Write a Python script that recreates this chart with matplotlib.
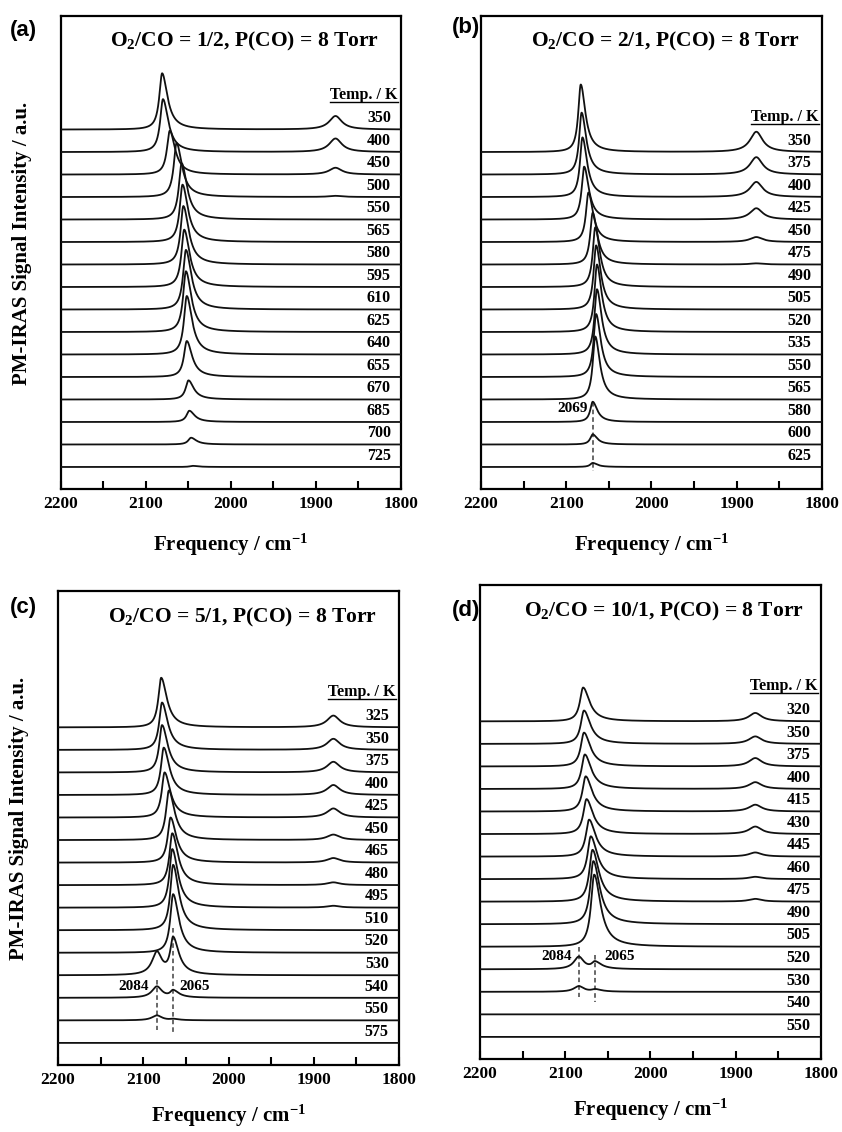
import matplotlib
matplotlib.use('Agg')
import matplotlib.pyplot as plt
from matplotlib.ticker import MultipleLocator
import numpy as np

plt.rcParams['font.family'] = ['Liberation Serif', 'DejaVu Serif']
plt.rcParams['font.weight'] = 'bold'
plt.rcParams['mathtext.fontset'] = 'custom'
plt.rcParams['mathtext.rm'] = 'Liberation Serif:bold'
plt.rcParams['mathtext.it'] = 'Liberation Serif:bold'
plt.rcParams['mathtext.bf'] = 'Liberation Serif:bold'
plt.rcParams['mathtext.default'] = 'rm'

# (a) O2/CO = 1/2
temps_a = [350, 400, 450, 500, 550, 565, 580, 595, 610, 625, 640, 655, 670, 685, 700, 725]
pos_a = [2081, 2080, 2072, 2064, 2058, 2057, 2056, 2055, 2053, 2053, 2052, 2052, 2050, 2049, 2047, 2045]
height_a = [2.5, 2.35, 1.95, 2.4, 2.5, 2.55, 2.6, 2.55, 2.65, 2.7, 2.6, 1.6, 0.85, 0.5, 0.3, 0.05]
high_a = [0] * 16
bridge_a = [0.6, 0.6, 0.3, 0.05, 0, 0, 0, 0, 0, 0, 0, 0, 0, 0, 0, 0]

# (b) O2/CO = 2/1
temps_b = [350, 375, 400, 425, 450, 475, 490, 505, 520, 535, 550, 565, 580, 600, 625]
pos_b = [2083, 2082, 2081, 2079, 2074, 2069, 2066, 2065, 2064, 2064, 2065, 2066, 2069, 2069, 2069]
height_b = [3.0, 2.75, 2.65, 2.35, 2.2, 2.3, 2.65, 2.85, 3.0, 2.9, 2.8, 2.8, 0.9, 0.45, 0.18]
high_b = [0] * 15
bridge_b = [0.9, 0.77, 0.67, 0.5, 0.22, 0.05, 0, 0, 0, 0, 0, 0, 0, 0, 0]

# (c) O2/CO = 5/1
temps_c = [325, 350, 375, 400, 425, 450, 465, 480, 495, 510, 520, 530, 540, 550, 575]
pos_c = [2079, 2078, 2078, 2076, 2075, 2070, 2068, 2066, 2066, 2065, 2065, 2065, 2065, 2065, 2065]
height_c = [2.2, 2.1, 2.1, 2.1, 2.0, 2.2, 2.0, 2.3, 2.6, 2.9, 2.6, 1.6, 0.3, 0.05, 0.0]
high_c = [0, 0, 0, 0, 0, 0, 0, 0, 0, 0, 0, 1.0, 0.5, 0.22, 0]
bridge_c = [0.52, 0.49, 0.47, 0.44, 0.4, 0.24, 0.2, 0.12, 0.08, 0, 0, 0, 0, 0, 0]

# (d) O2/CO = 10/1
temps_d = [320, 350, 375, 400, 415, 430, 445, 460, 475, 490, 505, 520, 530, 540, 550]
pos_d = [2079, 2078, 2078, 2077, 2076, 2075, 2072, 2070, 2068, 2067, 2066, 2065, 2065, 2065, 2065]
height_d = [1.5, 1.48, 1.5, 1.53, 1.56, 1.55, 1.64, 1.9, 2.3, 2.8, 3.2, 0.3, 0.1, 0, 0]
high_d = [0, 0, 0, 0, 0, 0, 0, 0, 0, 0, 0, 0.55, 0.25, 0, 0]
bridge_d = [0.37, 0.33, 0.37, 0.3, 0.3, 0.33, 0.18, 0.1, 0.12, 0, 0, 0, 0, 0, 0]

titles = ['O$_2$/CO = 1/2, P(CO) = 8 Torr', 'O$_2$/CO = 2/1, P(CO) = 8 Torr',
          'O$_2$/CO = 5/1, P(CO) = 8 Torr', 'O$_2$/CO = 10/1, P(CO) = 8 Torr']
letters = ['(a)', '(b)', '(c)', '(d)']

# dashed guides at marked band positions: (freq, y_top, y_bottom)
marks_b = [(2069, 2.9, -0.2)]
marks_c = [(2084, 2.8, 0.58), (2065, 5.1, 0.49)]
marks_d = [(2084, 4.0, 1.78), (2065, 3.64, 1.56)]

# line half-widths per panel: (high-frequency side, low-frequency side)
widths = [(4.0, 7.5), (3.5, 6.5), (4.0, 8.0), (4.5, 9.0)]

x = np.linspace(2200, 1800, 1601)


def lorentz(x, x0, w):
    return 1.0 / (1.0 + ((x - x0) / w) ** 2)


def spectrum(pos, h, hi, br, wl, wr):
    w = np.where(x >= pos, wl, wr)
    y = h / (1.0 + ((x - pos) / w) ** 2)
    y += hi * lorentz(x, 2084, 7.0)
    y += br * lorentz(x, 1877, 9.0)
    return y


fig = plt.figure(figsize=(8.42, 11.32), dpi=100)
rects = [[0.0724, 0.568, 0.4038, 0.4179],
         [0.5713, 0.568, 0.4049, 0.4179],
         [0.0689, 0.0592, 0.4050, 0.4187],
         [0.5700, 0.0645, 0.4050, 0.4187]]
panels = [(temps_a, pos_a, height_a, high_a, bridge_a, []),
          (temps_b, pos_b, height_b, high_b, bridge_b, marks_b),
          (temps_c, pos_c, height_c, high_c, bridge_c, marks_c),
          (temps_d, pos_d, height_d, high_d, bridge_d, marks_d)]
letter_pos = [(0.012, 0.973), (0.537, 0.976), (0.012, 0.463), (0.537, 0.461)]
xlabel_pad = [14, 14, 11, 11]

axes = []
for k, (rect, (temps, pos, hgt, hi, br, marks)) in enumerate(zip(rects, panels)):
    ax = fig.add_axes(rect)
    axes.append(ax)
    n = len(temps)
    wl, wr = widths[k]
    for i in range(n):
        off = n - 1 - i
        ax.plot(x, spectrum(pos[i], hgt[i], hi[i], br[i], wl, wr) + off,
                color='#111111', lw=1.3, zorder=3)
        ax.text(1812, off + 0.5, str(temps[i]), ha='right', va='center',
                fontsize=11.5, fontweight='bold', zorder=4)
    ax.text(1804, n - 1 + 1.55, 'Temp. / K', ha='right', va='center',
            fontsize=11.5, fontweight='bold')

    for f, y0, y1 in marks:
        ax.plot([f, f], [y0, y1], color='0.25', lw=1.1, ls=(0, (3, 2)), zorder=2)
    if k == 1:
        ax.text(2075, 2.6, '2069', ha='right', va='center', fontsize=11, fontweight='bold')
    elif k == 2:
        ax.text(2093, 2.5, '2084', ha='right', va='center', fontsize=11, fontweight='bold')
        ax.text(2058, 2.5, '2065', ha='left', va='center', fontsize=11, fontweight='bold')
    elif k == 3:
        ax.text(2092, 3.55, '2084', ha='right', va='center', fontsize=11, fontweight='bold')
        ax.text(2054, 3.55, '2065', ha='left', va='center', fontsize=11, fontweight='bold')

    ax.set_xlim(2200, 1800)
    ax.set_ylim(-0.98, 20.05)
    ax.set_yticks([])
    ax.xaxis.set_major_locator(MultipleLocator(100))
    ax.xaxis.set_minor_locator(MultipleLocator(50))
    ax.tick_params(axis='x', which='both', direction='in', top=False,
                   labelsize=12.5, pad=5, width=1.5, length=6)
    for lab in ax.get_xticklabels():
        lab.set_fontweight('bold')
    for s in ax.spines.values():
        s.set_linewidth(1.6)
    ax.set_xlabel('Frequency / cm$^{-1}$', fontsize=15, fontweight='bold',
                  labelpad=xlabel_pad[k])
    ax.text(0.54, 0.945, titles[k], transform=ax.transAxes, ha='center', va='center',
            fontsize=15.5, fontweight='bold')
    if k in (0, 2):
        ax.set_ylabel('PM-IRAS Signal Intensity / a.u.', fontsize=15, fontweight='bold')
        ax.yaxis.set_label_coords(-0.085, 0.52)
    fig.text(letter_pos[k][0], letter_pos[k][1], letters[k], family='Liberation Sans',
             fontsize=16, fontweight='bold', ha='left', va='center')

# underline the "Temp. / K" headers
fig.canvas.draw()
renderer = fig.canvas.get_renderer()
for ax in axes:
    for t in ax.texts:
        if t.get_text() == 'Temp. / K':
            bb = t.get_window_extent(renderer).transformed(ax.transData.inverted())
            ax.plot([bb.x0, bb.x1], [bb.y0 + 0.05, bb.y0 + 0.05], color='black', lw=1.0)

fig.savefig('out.png', dpi=100)
